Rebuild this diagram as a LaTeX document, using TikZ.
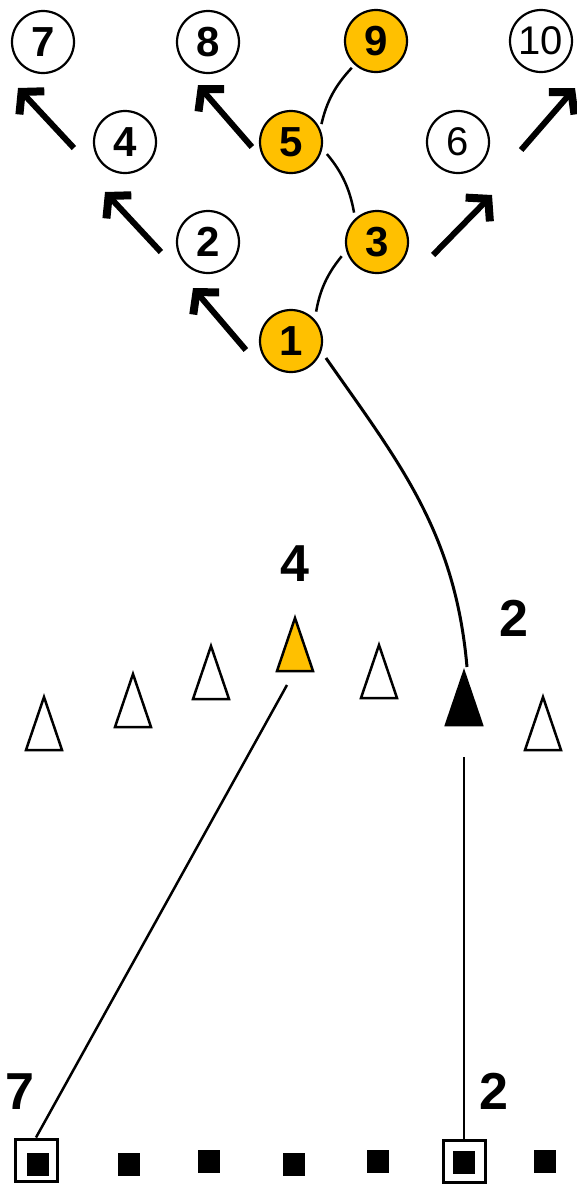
\documentclass[tikz,border=0pt]{standalone}
\usepackage{fontspec}
\setmainfont{Liberation Sans}
\usetikzlibrary{arrows.meta}
\definecolor{conegold}{RGB}{255,192,0}

\tikzset{
  player/.style={circle, draw, line width=2.2pt, minimum size=62pt, inner sep=0pt, font=\fontsize{42}{42}\selectfont\bfseries},
  ball/.style={player, fill=conegold},
  light/.style={font=\fontsize{40}{40}\selectfont},
  run/.style={line width=6pt, -{Straight Barb[length=15pt, width=34pt, line width=8pt, sharp]}},
  pass/.style={line width=2.5pt},
  marker/.style={fill=black, minimum width=22pt, minimum height=23pt, inner sep=0pt},
  gate/.style={draw, line width=3pt, minimum size=42pt, inner sep=0pt},
  num/.style={inner sep=0pt, font=\fontsize{52}{52}\selectfont\bfseries},
  pics/cone/.style={code={\draw[line width=2.5pt, fill=#1] (-18,0) -- (0,-53) -- (18,0) -- cycle;}}
}

\begin{document}
\begin{tikzpicture}[x=1pt, y=-1pt]
\useasboundingbox (0,0) rectangle (577,1184);

\path (43,42) node (p7) [player] {7};
\path (208,42) node (p8) [player] {8};
\path (376,41) node (p9) [ball] {9};
\path (541,41) node (p10) [player, light] {10};
\path (125,142) node (p4) [player] {4};
\path (291,142) node (p5) [ball] {5};
\path (458,142) node (p6) [player, light] {6};
\path (208,242) node (p2) [player] {2};
\path (377,242) node (p3) [ball] {3};
\path (291,341) node (p1) [ball] {1};

\draw[run] ([shift={(-19,6)}]p4.west) -- ([shift={(-25,46)}]p7.center);
\draw[run] ([shift={(-15,10)}]p2.west) -- ([shift={(-20,50)}]p4.center);
\draw[run] ([shift={(-7,5)}]p5.west) -- ([shift={(-10,43)}]p8.center);
\draw[run] ([shift={(-13,9)}]p1.west) -- ([shift={(-15,46)}]p2.center);
\draw[run] ([shift={(24,13)}]p3.east) -- ([shift={(34,53)}]p6.center);
\draw[run] ([shift={(31,8)}]p6.east) -- ([shift={(34,47)}]p10.center);

\draw[pass, shorten <=8pt, shorten >=7pt] (p1.42) to[bend left=15] (p3.196);
\draw[pass, shorten <=6pt, shorten >=7pt] (p3.133) to[bend right=15] (p5.-12);
\draw[pass, shorten <=5pt, shorten >=4pt] (p5.24) to[bend left=15] (p9.228);

\path (44,750) coordinate (k1) pic {cone=white};
\path (133,727) coordinate (k2) pic {cone=white};
\path (211,699) coordinate (k3) pic {cone=white};
\path (295,671) coordinate (k4) pic {cone=conegold};
\path (379,698) coordinate (k5) pic {cone=white};
\path (464,725) coordinate (k6) pic {cone=black};
\path (543,750) coordinate (k7) pic {cone=white};

\path (295,564) node (t4) [num] {4};
\path (514,618) node (t2) [num] {2};
\path (20,1092) node (t7) [num] {7};
\path (494,1091) node (t2b) [num] {2};

\path (38,1164) node (m1) [marker] {};
\path (129,1164) node (m2) [marker] {};
\path (209,1161) node (m3) [marker] {};
\path (294,1164) node (m4) [marker] {};
\path (378,1161) node (m5) [marker] {};
\path (464,1162) node (m6) [marker] {};
\path (545,1161) node (m7) [marker] {};
\path (36,1160) node (g1) [gate] {};
\path (464,1161) node (g6) [gate] {};

\draw[pass, line width=3pt, shorten <=8pt] (p1.-19) to[out=-55, in=95] ([shift={(3,-58)}]k6);
\draw[pass] ([shift={(-8,14)}]k4) -- (g1.north);
\draw[pass] ([shift={(0,32)}]k6) -- (g6.north);
\end{tikzpicture}
\end{document}
